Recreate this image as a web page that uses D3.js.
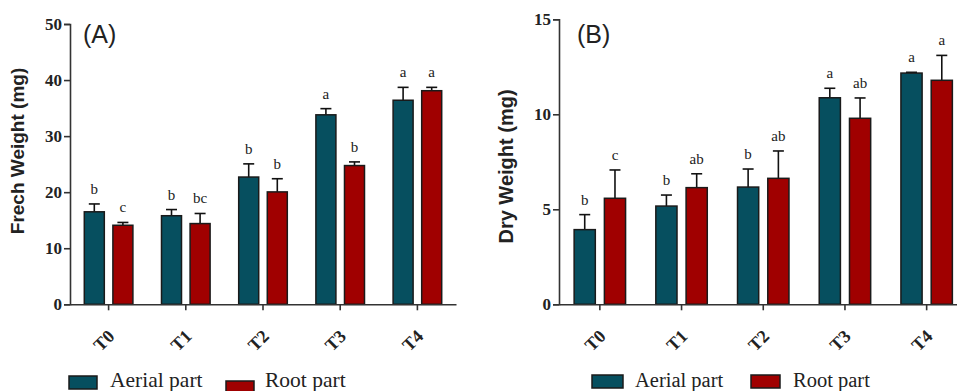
<!DOCTYPE html>
<html>
<head>
<meta charset="utf-8">
<script src="https://cdn.jsdelivr.net/npm/d3@7"></script>
<style>
  body { margin: 0; background: #fff; }
  svg { display: block; }
  .serif { font-family: "Liberation Serif", "DejaVu Serif", "Times New Roman", Times, serif; }
  .sans { font-family: "Liberation Sans", Arial, Helvetica, sans-serif; }
</style>
</head>
<body>
<div id="chart"></div>
<script>
// Data
const treatments = ["T0", "T1", "T2", "T3", "T4"];
const seriesNames = ["Aerial part", "Root part"];

// (A) fresh weight, mg
const freshAerial = [16.5, 15.8, 22.7, 33.8, 36.4];
const freshAerialErr = [1.4, 1.1, 2.35, 1.1, 2.3];
const freshRoot = [14.1, 14.4, 20.05, 24.75, 38.1];
const freshRootErr = [0.5, 1.8, 2.35, 0.65, 0.6];
const freshLetters = [["b", "c"], ["b", "bc"], ["b", "b"], ["a", "b"], ["a", "a"]];
const freshTicks = [0, 10, 20, 30, 40, 50];

// (B) dry weight, mg
const dryAerial = [3.93, 5.17, 6.17, 10.87, 12.17];
const dryAerialErr = [0.79, 0.58, 0.95, 0.5, 0.04];
const dryRoot = [5.58, 6.14, 6.63, 9.79, 11.79];
const dryRootErr = [1.49, 0.73, 1.44, 1.07, 1.31];
const dryLetters = [["b", "c"], ["b", "ab"], ["b", "ab"], ["a", "ab"], ["a", "a"]];
const dryTicks = [0, 5, 10, 15];

const colors = ["#064f5f", "#a00000"];
const W = 957, H = 391;

const svg = d3.select("#chart").append("svg")
  .attr("width", W)
  .attr("height", H);

function drawPanel(opt) {
  const g = svg.append("g");
  const x0 = d3.scaleBand().domain(treatments).range([opt.left, opt.right]);
  const x1 = d3.scaleBand().domain(seriesNames)
    .range([0, x0.bandwidth()]).paddingInner(0.3).paddingOuter(0.5);
  const y = d3.scaleLinear().domain([0, opt.max]).range([304.3, opt.top]);

  const rows = [];
  treatments.forEach((t, i) => {
    rows.push({t, s: seriesNames[0], v: opt.aerial[i], e: opt.aerialErr[i], l: opt.letters[i][0], c: colors[0]});
    rows.push({t, s: seriesNames[1], v: opt.root[i], e: opt.rootErr[i], l: opt.letters[i][1], c: colors[1]});
  });
  const cx = d => x0(d.t) + x1(d.s) + x1.bandwidth() / 2;

  // error bars (upper only)
  const eb = g.append("g").attr("stroke", "#111").attr("stroke-width", 1.6);
  eb.selectAll("line.v").data(rows).join("line")
    .attr("x1", cx).attr("x2", cx)
    .attr("y1", d => y(d.v)).attr("y2", d => y(d.v + d.e));
  eb.selectAll("line.c").data(rows).join("line")
    .attr("x1", d => cx(d) - 5.5).attr("x2", d => cx(d) + 5.5)
    .attr("y1", d => y(d.v + d.e)).attr("y2", d => y(d.v + d.e));

  // bars
  g.append("g").selectAll("rect").data(rows).join("rect")
    .attr("x", d => x0(d.t) + x1(d.s))
    .attr("width", x1.bandwidth())
    .attr("y", d => y(d.v))
    .attr("height", d => y(0) - y(d.v))
    .attr("fill", d => d.c)
    .attr("stroke", "#1a1a1a")
    .attr("stroke-width", 1.5);

  // significance letters
  g.append("g").selectAll("text").data(rows).join("text")
    .attr("class", "serif")
    .attr("x", cx)
    .attr("y", d => y(d.v + d.e) - 10)
    .attr("text-anchor", "middle")
    .style("font-size", "15px")
    .attr("fill", "#222")
    .text(d => d.l);

  // y axis
  const ya = g.append("g")
    .attr("transform", `translate(${opt.left},0)`)
    .call(d3.axisLeft(y).tickValues(opt.ticks).tickSize(6).tickPadding(2));
  ya.attr("font-family", null).attr("font-size", null);
  ya.select(".domain").attr("stroke", "#333").attr("stroke-width", 1.6);
  ya.selectAll(".tick line").attr("stroke", "#333").attr("stroke-width", 1.6);
  ya.selectAll(".tick text")
    .attr("class", "serif")
    .style("font-weight", "bold").style("font-size", "17px")
    .attr("fill", "#222");

  // x axis
  const xa = g.append("g")
    .attr("transform", `translate(0,${y(0)})`)
    .call(d3.axisBottom(x0).tickSize(6).tickSizeOuter(0));
  xa.attr("font-family", null).attr("font-size", null);
  xa.select(".domain").attr("stroke", "#333").attr("stroke-width", 1.6);
  xa.selectAll(".tick line").attr("stroke", "#333").attr("stroke-width", 1.6);
  xa.selectAll(".tick text")
    .attr("class", "serif")
    .style("font-weight", "bold").style("font-size", "18px")
    .attr("fill", "#222")
    .attr("text-anchor", "end")
    .attr("transform", "translate(7,33) rotate(-45)")
    .attr("x", 0).attr("y", 0).attr("dy", 0);

  // y label
  g.append("text")
    .attr("class", "sans")
    .attr("transform", `translate(${opt.labelX},${opt.labelY}) rotate(-90)`)
    .attr("text-anchor", "middle")
    .style("font-weight", "bold").style("font-size", opt.labelSize + "px")
    .attr("fill", "#222")
    .text(opt.ylabel);

  // panel tag
  g.append("text")
    .attr("class", "sans")
    .attr("x", opt.left + opt.tagDx).attr("y", 43)
    .style("font-size", "25px").attr("fill", "#222")
    .text(opt.tag);

  // legend
  const lg = g.append("g");
  opt.legend.forEach((p, i) => {
    lg.append("rect")
      .attr("x", p[0]).attr("y", p[1])
      .attr("width", p[2]).attr("height", 13)
      .attr("fill", colors[i]).attr("stroke", "#1a1a1a").attr("stroke-width", 1.5);
    lg.append("text")
      .attr("class", "serif")
      .attr("x", p[3]).attr("y", 387)
      .style("font-size", opt.legendSize + "px").attr("fill", "#222")
      .text(seriesNames[i]);
  });
}

drawPanel({
  left: 70, right: 456, top: 24, max: 50, ticks: freshTicks,
  aerial: freshAerial, aerialErr: freshAerialErr, root: freshRoot, rootErr: freshRootErr,
  letters: freshLetters, ylabel: "Frech Weight (mg)",
  labelX: 23.5, labelY: 151, labelSize: 19,
  tag: "(A)", tagDx: 13, legendSize: 21.5,
  legend: [[69, 376, 28, 110], [226, 381, 28, 265]]
});

drawPanel({
  left: 559, right: 967.5, top: 19.3, max: 15, ticks: dryTicks,
  aerial: dryAerial, aerialErr: dryAerialErr, root: dryRoot, rootErr: dryRootErr,
  letters: dryLetters, ylabel: "Dry Weight (mg)",
  labelX: 513, labelY: 166.5, labelSize: 20,
  tag: "(B)", tagDx: 18, legendSize: 20.5,
  legend: [[592, 375, 31, 635], [751, 375, 29, 793]]
});
</script>
</body>
</html>
